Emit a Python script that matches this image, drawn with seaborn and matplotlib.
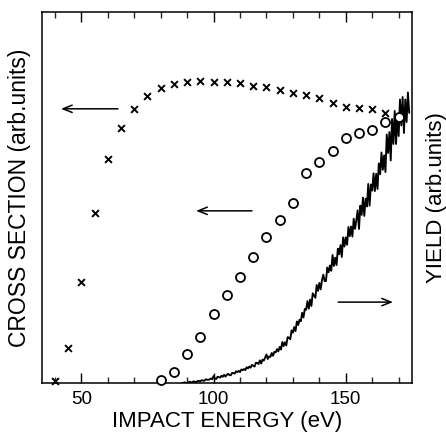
import numpy as np
import pandas as pd
import matplotlib
matplotlib.use("Agg")
import matplotlib.pyplot as plt
from matplotlib.ticker import MultipleLocator
import seaborn as sns

# ---------------- data (arbitrary units) ----------------
cross_energy = [40, 45, 50, 55, 60, 65, 70, 75, 80, 85, 90, 95, 100,
                105, 110, 115, 120, 125, 130, 135, 140, 145, 150, 155, 160, 165]
cross_section_x = [2, 35, 101, 170, 224, 255, 274, 287, 295, 299, 301, 302, 301,
                   301, 300, 297, 296, 293, 290, 288, 285, 280, 276, 275, 274, 270]

circle_energy = [80, 85, 90, 95, 100, 105, 110, 115, 120, 125, 130, 135,
                 140, 145, 150, 155, 160, 165, 170]
cross_section_o = [3, 11, 29, 46, 69, 88, 106, 126, 146, 163, 180, 210,
                   221, 232, 245, 250, 253, 261, 266]

yield_energy = [
    88.0, 88.5, 89.0, 89.5, 90.0, 90.5, 91.0, 91.5, 92.0, 92.5,
    93.0, 93.5, 94.0, 94.5, 95.0, 95.5, 96.0, 96.5, 97.0, 97.5,
    98.0, 98.5, 99.0, 99.5, 100.0, 100.5, 101.0, 101.5, 102.0, 102.5,
    103.0, 103.5, 104.0, 104.5, 105.0, 105.5, 106.0, 106.5, 107.0, 107.5,
    108.0, 108.5, 109.0, 109.5, 110.0, 110.5, 111.0, 111.5, 112.0, 112.5,
    113.0, 113.5, 114.0, 114.5, 115.0, 115.5, 116.0, 116.5, 117.0, 117.5,
    118.0, 118.5, 119.0, 119.5, 120.0, 120.5, 121.0, 121.5, 122.0, 122.5,
    123.0, 123.5, 124.0, 124.5, 125.0, 125.5, 126.0, 126.5, 127.0, 127.5,
    128.0, 128.5, 129.0, 129.5, 130.0, 130.5, 131.0, 131.5, 132.0, 132.5,
    133.0, 133.5, 134.0, 134.5, 135.0, 135.5, 136.0, 136.5, 137.0, 137.5,
    138.0, 138.5, 139.0, 139.5, 140.0, 140.5, 141.0, 141.5, 142.0, 142.5,
    143.0, 143.5, 144.0, 144.5, 145.0, 145.5, 146.0, 146.5, 147.0, 147.5,
    148.0, 148.5, 149.0, 149.5, 150.0, 150.5, 151.0, 151.5, 152.0, 152.5,
    153.0, 153.5, 154.0, 154.5, 155.0, 155.5, 156.0, 156.5, 157.0, 157.5,
    158.0, 158.5, 159.0, 159.5, 160.0, 160.5, 161.0, 161.5, 162.0, 162.5,
    163.0, 163.5, 164.0, 164.5, 165.0, 165.5, 166.0, 166.5, 167.0, 167.5,
    168.0, 168.5, 169.0, 169.5, 170.0, 170.5, 171.0, 171.5, 172.0, 172.5,
    173.0, 173.5, 174.0]
yield_counts = [
    0.1, 0.0, 0.7, 0.1, 0.0, 0.85, 1.3, 0.3, 1.1, 1.6,
    1.1, 0.9, 2.1, 2.1, 1.7, 2.8, 2.4, 2.2, 3.6, 3.4,
    3.1, 3.7, 4.5, 3.7, 7.0, 4.4, 3.9, 6.2, 5.9, 5.3,
    7.3, 6.2, 8.2, 6.4, 8.1, 9.2, 7.9, 7.7, 10.0, 9.9,
    9.4, 11.8, 10.7, 12.1, 10.9, 13.5, 12.8, 14.0, 12.8, 15.7,
    14.6, 16.4, 15.3, 18.1, 17.3, 16.4, 20.2, 20.1, 19.0, 22.6,
    19.5, 23.3, 22.4, 25.4, 28.5, 24.0, 26.6, 26.1, 30.0, 27.2,
    31.2, 30.6, 33.8, 31.6, 36.1, 33.4, 41.0, 36.9, 40.8, 37.5,
    45.8, 45.4, 43.8, 52.6, 50.3, 55.9, 51.9, 61.5, 58.0, 63.2,
    61.7, 70.2, 65.5, 74.0, 73.3, 81.9, 74.3, 83.4, 77.0, 89.7,
    87.5, 85.2, 98.0, 92.1, 100.1, 93.6, 102.8, 108.3, 101.9, 102.0,
    115.4, 110.7, 117.5, 112.2, 128.0, 117.0, 125.3, 117.9, 134.3, 128.7,
    137.9, 126.0, 145.6, 136.4, 145.6, 138.2, 156.0, 146.8, 156.5, 146.4,
    164.2, 154.1, 162.9, 172.6, 154.0, 177.3, 168.1, 185.4, 167.1, 184.4,
    176.5, 199.0, 177.3, 198.5, 192.4, 209.7, 191.9, 209.2, 194.0, 219.6,
    208.8, 230.5, 213.2, 227.6, 211.0, 248.5, 230.0, 251.0, 222.5, 264.0,
    239.0, 272.0, 239.0, 266.0, 247.0, 283.5, 257.5, 286.0, 250.0, 283.5,
    261.0, 290.5, 270.0]

x_ticks_major = [50, 100, 150]
x_label = "IMPACT ENERGY (eV)"
y_label_left = "CROSS SECTION (arb.units)"
y_label_right = "YIELD (arb.units)"

# ---------------- figure ----------------
sns.set_theme(style="white")
plt.rcParams["font.family"] = ["Liberation Sans", "DejaVu Sans"]

fig = plt.figure(figsize=(4.46, 4.37), dpi=100)
ax = fig.add_axes([0.0935, 0.1236, 0.830, 0.849])

df_y = pd.DataFrame({"E": yield_energy, "Y": yield_counts})
df_x = pd.DataFrame({"E": cross_energy, "S": cross_section_x})
df_o = pd.DataFrame({"E": circle_energy, "S": cross_section_o})

sns.lineplot(data=df_y, x="E", y="Y", ax=ax, color="black", linewidth=1.35,
             zorder=1, estimator=None, sort=False)
sns.scatterplot(data=df_x, x="E", y="S", ax=ax, marker="x", s=24,
                color="black", linewidth=1.4, zorder=3, clip_on=False)
sns.scatterplot(data=df_o, x="E", y="S", ax=ax, marker="o", s=42,
                facecolor="white", edgecolor="black", linewidth=1.3,
                zorder=4, clip_on=False)

ax.set_xlim(35, 175)
ax.set_ylim(0, 371)
ax.set_yticks([])
ax.xaxis.set_major_locator(MultipleLocator(50))
ax.xaxis.set_minor_locator(MultipleLocator(10))
ax.set_xticks(x_ticks_major)
ax.tick_params(axis="x", which="major", direction="in", length=7, width=1.0,
               top=True, bottom=True, labelsize=13.5, pad=6, colors="black")
ax.tick_params(axis="x", which="minor", direction="in", length=4.5, width=1.0,
               top=True, bottom=True)
for sp in ax.spines.values():
    sp.set_visible(True)
    sp.set_color("black")
    sp.set_linewidth(1.1)

ax.set_xlabel(x_label, fontsize=16, labelpad=2, color="black")
ax.set_ylabel(y_label_left, fontsize=16.5, labelpad=8, color="black")

ax2 = ax.twinx()
ax2.set_ylim(0, 371)
ax2.set_yticks([])
ax2.set_ylabel(y_label_right, fontsize=16, labelpad=10, color="black")
for sp in ax2.spines.values():
    sp.set_visible(False)

arrow = dict(arrowstyle="->,head_length=0.55,head_width=0.22", lw=1.1, color="black",
             shrinkA=0, shrinkB=0)
ax.annotate("", xy=(0.052, 0.739), xytext=(0.206, 0.739), xycoords="axes fraction",
            arrowprops=arrow)
ax.annotate("", xy=(0.417, 0.464), xytext=(0.568, 0.464), xycoords="axes fraction",
            arrowprops=arrow)
ax.annotate("", xy=(0.949, 0.218), xytext=(0.801, 0.218), xycoords="axes fraction",
            arrowprops=arrow)

fig.savefig("out.png", dpi=100, facecolor="white")
